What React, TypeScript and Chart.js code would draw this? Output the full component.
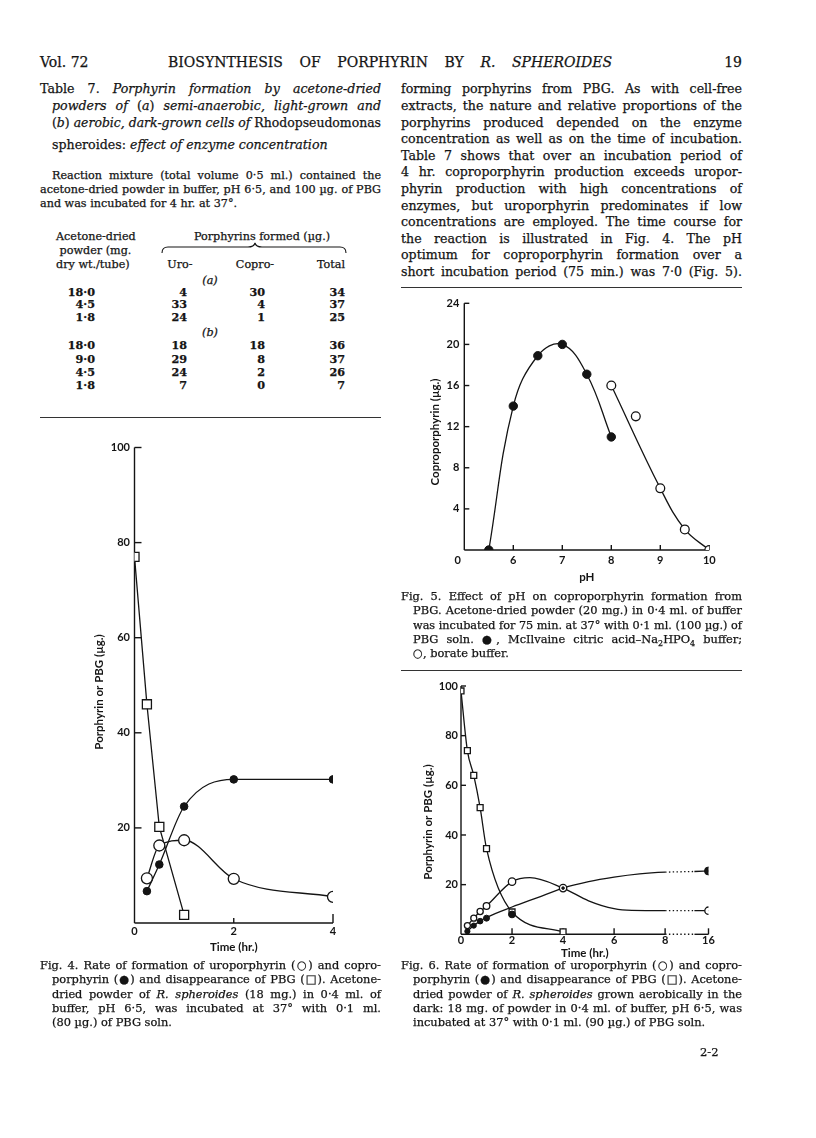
import React, { useEffect, useLayoutEffect, useRef } from 'react';
import { Chart, registerables } from 'chart.js';

Chart.register(...registerables);

// ---------------- Fig. 4 (time in hr., porphyrin or PBG in µg.) ----------------
const fig4Hours = [0.25, 0.5, 1, 2, 4];
const fig4Uro = [9.4, 16.3, 17.4, 9.3, 5.5];
const fig4Copro = [6.7, 12.3, 24.5, 30.2, 30.2];
const fig4PbgHours = [0, 0.25, 0.5, 1];
const fig4Pbg = [77, 46, 20.2, 1.7];
const fig4XTicks = [0, 2, 4];
const fig4YTicks = [20, 40, 60, 80, 100];

// ---------------- Fig. 5 (pH vs coproporphyrin µg.) ----------------
const fig5PhMcIlvaine = [5.5, 6, 6.5, 7, 7.5, 8];
const fig5CoproMcIlvaine = [0, 14, 18.9, 20, 17.1, 11];
const fig5PhBorate = [8, 8.5, 9, 9.5, 10];
const fig5CoproBorate = [16, 13, 6, 2, 0];
// fitted line drawn through the borate points
const fig5BorateCurvePh = [8, 9, 9.5, 10];
const fig5BorateCurve = [16, 6, 2, 0];
const fig5XTicks = [6, 7, 8, 9, 10];
const fig5YTicks = [4, 8, 12, 16, 20, 24];

// ---------------- Fig. 6 (time in hr., broken axis 8 -> 16 hr.) ----------------
const fig6Hours = [0.25, 0.5, 0.75, 1, 2, 4, 16];
const fig6Uro = [3.5, 6.5, 9.2, 11.4, 21.2, 18.6, 9.5];
const fig6Copro = [1.2, 3.5, 5.3, 6.5, 8, 18.6, 25.5];
const fig6PbgHours = [0, 0.25, 0.5, 0.75, 1, 2, 4];
const fig6Pbg = [98, 74, 64, 51, 34.5, 9, 1];
// fitted curves
const fig6UroCurveHours = [0.25, 0.5, 0.75, 1, 2, 2.7, 4, 5, 6, 6.7, 8, 13.4, 16];
const fig6UroCurve = [3.5, 6.5, 9.2, 11.4, 21.2, 22.8, 18.6, 13.5, 10.3, 9.6, 9.5, 9.5, 9.5];
const fig6CoproCurveHours = [0.25, 0.5, 0.75, 1, 2, 3, 4, 5, 6, 7, 8, 13.4, 16];
const fig6CoproCurve = [1.2, 3.5, 5.3, 6.8, 11, 14.8, 18.6, 21.2, 23, 24.3, 25, 25.3, 25.5];
const fig6XTickHours = [0, 2, 4, 6, 8, 16];
const fig6YTicks = [20, 40, 60, 80, 100];

// ---------------- Table 7 ----------------
const tablePowderA = ['18·0', '4·5', '1·8'];
const tableUroA = [4, 33, 24];
const tableCoproA = [30, 4, 1];
const tableTotalA = [34, 37, 25];
const tablePowderB = ['18·0', '9·0', '4·5', '1·8'];
const tableUroB = [18, 29, 24, 7];
const tableCoproB = [18, 8, 2, 0];
const tableTotalB = [36, 37, 26, 7];

const INK = '#141414';
const SERIF = '"DejaVu Serif", "Liberation Serif", serif';
const SANS = 'Lato, "DejaVu Sans", sans-serif';

// broken time axis of Fig. 6: 8 -> 16 hr. squeezed
const hrAxis = (h: number) => (h <= 8 ? h : 8 + ((h - 8) * 1.7) / 8);

const pts = (xs: number[], ys: number[], f: (v: number) => number = (v) => v) =>
  xs.map((x, i) => ({ x: f(x), y: ys[i] }));

const paperAxes = {
  id: 'paperAxes',
  beforeDatasetsDraw(chart: any, _a: any, o: any) {
    const { ctx, chartArea: ca, scales } = chart;
    const x = scales.x;
    const y = scales.y;
    ctx.save();
    ctx.strokeStyle = INK;
    ctx.lineWidth = 1.4;
    ctx.beginPath();
    ctx.moveTo(ca.left, y.getPixelForValue(y.max));
    ctx.lineTo(ca.left, ca.bottom);
    ctx.stroke();
    for (const [a, b, dotted] of o.xSegments) {
      ctx.setLineDash(dotted ? [1.4, 2.4] : []);
      ctx.beginPath();
      ctx.moveTo(x.getPixelForValue(a), ca.bottom);
      ctx.lineTo(x.getPixelForValue(b), ca.bottom);
      ctx.stroke();
    }
    ctx.setLineDash([]);
    for (const [v, len] of o.xTicks) {
      const px = x.getPixelForValue(v);
      ctx.beginPath();
      ctx.moveTo(px, ca.bottom);
      ctx.lineTo(px, ca.bottom - len);
      ctx.stroke();
    }
    for (const [v, len] of o.yTicks) {
      const py = y.getPixelForValue(v);
      ctx.beginPath();
      ctx.moveTo(ca.left, py);
      ctx.lineTo(ca.left + len, py);
      ctx.stroke();
    }
    ctx.fillStyle = INK;
    if (o.corner) {
      ctx.font = `bold 11px ${SANS}`;
      ctx.textAlign = 'center';
      ctx.textBaseline = 'middle';
      ctx.fillText(o.corner.text, ca.left + o.corner.dx, ca.bottom + o.corner.dy);
    }
    if (o.yTitle) {
      ctx.save();
      ctx.translate(o.yTitle.x, o.yTitle.y);
      ctx.rotate(-Math.PI / 2);
      ctx.font = `bold 11.5px ${SANS}`;
      ctx.textAlign = 'center';
      ctx.textBaseline = 'middle';
      ctx.fillText(o.yTitle.text, 0, 0);
      ctx.restore();
    }
    ctx.restore();
  },
};

const tickFont = { family: SANS, size: 11, weight: 'bold' as const };
const titleFont = { family: SANS, size: 11.5, weight: 'bold' as const };

const OPEN = (r: any) => ({
  pointStyle: 'circle', pointRadius: r, pointBackgroundColor: '#fff', pointBorderColor: INK, pointBorderWidth: 1.3,
});
const FILLED = (r: any) => ({
  pointStyle: 'circle', pointRadius: r, pointBackgroundColor: INK, pointBorderColor: INK, pointBorderWidth: 1,
});
const SQUARE = (r: any) => ({
  pointStyle: 'rect', pointRadius: r, pointBackgroundColor: '#fff', pointBorderColor: INK, pointBorderWidth: 1.3,
});
const marks = (data: any[], style: any) => ({ data, showLine: false, order: 1, pointHoverRadius: 0, ...style });
const curve = (data: any[], extra: any = {}) => ({
  data, showLine: true, borderColor: INK, borderWidth: 1.3, pointRadius: 0, pointHoverRadius: 0, fill: false, order: 2, ...extra,
});

type Frame = { left: number; top: number; width: number; height: number; l: number; t: number; r: number; b: number };

function build(canvas: HTMLCanvasElement, f: Frame, datasets: any[], c: any) {
  canvas.width = f.width;
  canvas.height = f.height;
  const yW = f.l - f.left;
  const xH = f.top + f.height - f.b;
  const axes = { ...c.axes, yTitle: { text: c.yTitle.text, x: c.yTitle.x - f.left, y: c.yTitle.y - f.top } };
  return new Chart(canvas, {
    type: 'scatter',
    data: { datasets },
    plugins: [paperAxes],
    options: {
      animation: false,
      responsive: false,
      maintainAspectRatio: false,
      events: [],
      layout: { padding: { left: 0, top: f.t - f.top, right: f.left + f.width - f.r, bottom: 0 } },
      plugins: {
        legend: { display: false },
        tooltip: { enabled: false },
        paperAxes: axes,
      } as any,
      scales: {
        x: {
          type: 'linear', min: c.xMin, max: c.xMax,
          grid: { display: false, drawTicks: false, tickLength: 0 }, border: { display: false },
          afterBuildTicks: (s: any) => { s.ticks = c.xTicks.map((v: number) => ({ value: v })); },
          afterFit: (s: any) => { s.height = xH; },
          ticks: {
            autoSkip: false, maxRotation: 0, minRotation: 0, padding: c.xLabelPad, color: INK, font: tickFont,
            callback: (_v: any, i: number) => c.xLabels[i],
          },
          title: { display: true, text: c.xTitle, color: INK, font: titleFont, padding: { top: 0, bottom: c.xTitlePad } },
        },
        y: {
          type: 'linear', min: c.yMin, max: c.yMax,
          grid: { display: false, drawTicks: false, tickLength: 0 }, border: { display: false },
          afterBuildTicks: (s: any) => { s.ticks = c.yTicks.map((v: number) => ({ value: v })); },
          afterFit: (s: any) => { s.width = yW; },
          ticks: {
            autoSkip: false, padding: c.yLabelPad, color: INK, font: tickFont,
            callback: (v: any) => String(v),
          },
          title: { display: false },
        },
      } as any,
    } as any,
  });
}

const F4: Frame = { left: 84, top: 430, width: 262, height: 530, l: 134.5, t: 447.5, r: 333, b: 923 };
const F5: Frame = { left: 420, top: 290, width: 300, height: 300, l: 464.3, t: 303.3, r: 709.3, b: 550 };
const F6: Frame = { left: 414, top: 672, width: 306, height: 292, l: 461, t: 686, r: 708.5, b: 934.3 };

function makeFig4(cv: HTMLCanvasElement) {
  return build(cv, F4, [
    marks(pts(fig4Hours, fig4Copro), FILLED(3.8)),
    marks(pts(fig4Hours, fig4Uro), OPEN(5.5)),
    marks(pts(fig4PbgHours, fig4Pbg), SQUARE(6.4)),
    curve(pts(fig4Hours, fig4Copro), { cubicInterpolationMode: 'monotone' }),
    curve(pts(fig4Hours, fig4Uro), { cubicInterpolationMode: 'monotone' }),
    curve(pts(fig4PbgHours, fig4Pbg), { tension: 0 }),
  ], {
    xMin: 0, xMax: 4, yMin: 0, yMax: 100,
    xTicks: fig4XTicks, xLabels: fig4XTicks.map(String), yTicks: fig4YTicks,
    xTitle: 'Time (hr.)', yTitle: { text: 'Porphyrin or PBG (\u00b5g.)', x: 99, y: 692 },
    xLabelPad: 1.4, xTitlePad: 6.1, yLabelPad: 4.5,
    axes: {
      xSegments: [[0, 4, false]],
      xTicks: [[2, 5], [4, 9]],
      yTicks: fig4YTicks.map((v) => [v, 7]),
    },
  });
}

function makeFig5(cv: HTMLCanvasElement) {
  return build(cv, F5, [
    marks(pts(fig5PhMcIlvaine, fig5CoproMcIlvaine), FILLED(4.2)),
    marks(pts(fig5PhBorate, fig5CoproBorate), OPEN(4.4)),
    curve(pts(fig5PhMcIlvaine, fig5CoproMcIlvaine), { tension: 0.4 }),
    curve(pts(fig5BorateCurvePh, fig5BorateCurve), { tension: 0.4 }),
  ], {
    xMin: 5, xMax: 10, yMin: 0, yMax: 24,
    xTicks: fig5XTicks, xLabels: fig5XTicks.map(String), yTicks: fig5YTicks,
    xTitle: 'pH', yTitle: { text: 'Coproporphyrin (\u00b5g.)', x: 435, y: 432 },
    xLabelPad: 3.4, xTitlePad: 6.1, yLabelPad: 5,
    axes: {
      xSegments: [[5, 10, false]],
      xTicks: fig5XTicks.map((v) => [v, 5]),
      yTicks: fig5YTicks.map((v) => [v, 5]),
      corner: { text: '0', dx: -6.6, dy: 10 },
    },
  });
}

function makeFig6(cv: HTMLCanvasElement) {
  const dashBreak = {
    borderDash: (ctx: any) => (ctx.p0.parsed.x >= 7.999 && ctx.p1.parsed.x <= 9.2 ? [1.4, 2.4] : undefined),
  };
  return build(cv, F6, [
    marks(pts(fig6Hours, fig6Copro, hrAxis), FILLED([2.6, 2.6, 2.8, 3, 3.4, 1.3, 4])),
    marks(pts(fig6Hours, fig6Uro, hrAxis), OPEN([3, 3, 3.1, 3.3, 3.7, 3.7, 3.7])),
    marks(pts(fig6PbgHours, fig6Pbg, hrAxis), SQUARE(4.2)),
    curve(pts(fig6UroCurveHours, fig6UroCurve, hrAxis), { cubicInterpolationMode: 'monotone', segment: dashBreak }),
    curve(pts(fig6CoproCurveHours, fig6CoproCurve, hrAxis), { cubicInterpolationMode: 'monotone', segment: dashBreak }),
    curve(pts(fig6PbgHours, fig6Pbg, hrAxis), { cubicInterpolationMode: 'monotone' }),
  ], {
    xMin: 0, xMax: hrAxis(16), yMin: 0, yMax: 100,
    xTicks: fig6XTickHours.map(hrAxis), xLabels: fig6XTickHours.map(String), yTicks: fig6YTicks,
    xTitle: 'Time (hr.)', yTitle: { text: 'Porphyrin or PBG (\u00b5g.)', x: 428, y: 822 },
    xLabelPad: 0, xTitlePad: 3.8, yLabelPad: 3,
    axes: {
      xSegments: [[0, 8, false], [8, 9.15, true], [9.15, hrAxis(16), false]],
      xTicks: fig6XTickHours.filter((h) => h > 0).map((h) => [hrAxis(h), 6]),
      yTicks: fig6YTicks.map((v) => [v, 5]),
    },
  });
}

// ---------------- text helpers ----------------
type TP = { x: number; y: number; w?: number; fs?: number; j?: boolean; a?: 'left' | 'center' | 'right'; children: React.ReactNode };
function T({ x, y, w, fs = 12.6, j = false, a = 'left', children }: TP) {
  const ref = useRef<HTMLDivElement>(null);
  useLayoutEffect(() => {
    const el = ref.current;
    if (!el || !w) return;
    el.style.width = 'auto';
    const nat = el.getBoundingClientRect().width;
    if (nat > w) {
      el.style.width = nat + 'px';
      if (a === 'right') el.style.left = x + w - nat + 'px';
      if (a === 'center') el.style.left = x + (w - nat) / 2 + 'px';
      el.style.transformOrigin = (a === 'right' ? 'right' : a === 'center' ? 'center' : 'left') + ' center';
      el.style.transform = `scaleX(${w / nat})`;
    } else {
      el.style.width = w + 'px';
    }
  }, []);
  const align = j ? 'justify' : a;
  return (
    <div
      ref={ref}
      style={{
        position: 'absolute', left: x, top: y - fs * 0.6, width: w, fontFamily: SERIF, fontSize: fs,
        lineHeight: `${fs * 1.2}px`, whiteSpace: 'nowrap', textAlign: align as any, textAlignLast: align as any, color: INK,
        WebkitTextStroke: '0.25px #141414',
      }}
    >
      {children}
    </div>
  );
}

const Rule = ({ x, y, w }: { x: number; y: number; w: number }) => (
  <div style={{ position: 'absolute', left: x, top: y, width: w, height: 0, borderTop: `1.2px solid #333` }} />
);

const LX = 40, LW = 341, RX = 401, RW = 341, IND = 12;
const BODY_Y0 = 89, BODY_DY = 16.6;
const bodyLines = [
  'forming porphyrins from PBG. As with cell-free',
  'extracts, the nature and relative proportions of the',
  'porphyrins produced depended on the enzyme',
  'concentration as well as on the time of incubation.',
  'Table 7 shows that over an incubation period of',
  '4 hr. coproporphyrin production exceeds uropor-',
  'phyrin production with high concentrations of',
  'enzymes, but uroporphyrin predominates if low',
  'concentrations are employed. The time course for',
  'the reaction is illustrated in Fig. 4. The pH',
  'optimum for coproporphyrin formation over a',
  'short incubation period (75 min.) was 7\u00b70 (Fig. 5).',
];

const rowsA = [292.5, 305, 317.7];
const rowsB = [346, 359.3, 372.6, 386];
const CAP = 11.4;
const NOTE = 11.2;
const capY = [966, 980.2, 994.4, 1008.6, 1022.8];

export default function App() {
  const c4 = useRef<HTMLCanvasElement>(null);
  const c5 = useRef<HTMLCanvasElement>(null);
  const c6 = useRef<HTMLCanvasElement>(null);

  useEffect(() => {
    const charts = [makeFig4(c4.current!), makeFig5(c5.current!), makeFig6(c6.current!)];
    return () => charts.forEach((ch) => ch.destroy());
  }, []);

  const cv = (f: Frame) => ({ position: 'absolute' as const, left: f.left, top: f.top, width: f.width, height: f.height, display: 'block' });

  const tableRow = (y: number, p: string, u: number, c: number, t: number) => (
    <React.Fragment key={`r${y}`}>
      <T x={45} y={y} w={50} fs={NOTE} a="right"><b>{p}</b></T>
      <T x={147} y={y} w={40} fs={NOTE} a="right"><b>{u}</b></T>
      <T x={225} y={y} w={40} fs={NOTE} a="right"><b>{c}</b></T>
      <T x={305} y={y} w={40} fs={NOTE} a="right"><b>{t}</b></T>
    </React.Fragment>
  );

  return (
    <div style={{ position: 'absolute', left: 0, top: 0, width: 816, height: 1138, background: '#fff', overflow: 'hidden' }}>
      {/* running head */}
      <T x={LX} y={62} fs={14}>Vol. 72</T>
      <T x={168} y={62} w={444} fs={14} j>BIOSYNTHESIS OF PORPHYRIN BY <i>R. SPHEROIDES</i></T>
      <T x={702} y={62} w={40} fs={14} a="right">19</T>

      {/* Table 7 caption */}
      <T x={LX} y={89} w={LW} j>Table 7. <i>Porphyrin formation by acetone-dried</i></T>
      <T x={LX + IND} y={106} w={LW - IND} j><i>powders of</i> (<i>a</i>) <i>semi-anaerobic, light-grown and</i></T>
      <T x={LX + IND} y={123} w={LW - IND} j>(<i>b</i>) <i>aerobic, dark-grown cells of</i> Rhodopseudomonas</T>
      <T x={LX + IND} y={145}>spheroides: <i>effect of enzyme concentration</i></T>

      <T x={LX + IND} y={176} w={LW - IND} fs={NOTE} j>Reaction mixture (total volume 0{'\u00b7'}5 ml.) contained the</T>
      <T x={LX} y={190} w={LW} fs={NOTE} j>acetone-dried powder in buffer, pH 6{'\u00b7'}5, and 100 {'\u00b5'}g. of PBG</T>
      <T x={LX} y={203.5} fs={NOTE}>and was incubated for 4 hr. at 37{'\u00b0'}.</T>

      {/* table head */}
      <T x={56} y={237} fs={NOTE}>Acetone-dried</T>
      <T x={56} y={251} fs={NOTE}>&nbsp;powder (mg.</T>
      <T x={56} y={265} fs={NOTE}>dry wt./tube)</T>
      <T x={182} y={237} w={160} fs={NOTE} a="center">Porphyrins formed ({'\u00b5'}g.)</T>
      <svg style={{ position: 'absolute', left: 0, top: 0, overflow: 'visible' }} width={1} height={1}>
        <path d="M162 253 Q162 247 168 247 L248 247 Q254 247 255 243 Q256 247 262 247 L340 247 Q346 247 346 253"
          fill="none" stroke={INK} strokeWidth={1.1} />
      </svg>
      <T x={160} y={265} w={40} fs={NOTE} a="center">Uro-</T>
      <T x={230} y={265} w={50} fs={NOTE} a="center">Copro-</T>
      <T x={305} y={265} w={40} fs={NOTE} a="right">Total</T>
      <T x={195} y={280.5} w={30} fs={NOTE} a="center"><i>(a)</i></T>
      {rowsA.map((y, i) => tableRow(y, tablePowderA[i], tableUroA[i], tableCoproA[i], tableTotalA[i]))}
      <T x={195} y={333} w={30} fs={NOTE} a="center"><i>(b)</i></T>
      {rowsB.map((y, i) => tableRow(y, tablePowderB[i], tableUroB[i], tableCoproB[i], tableTotalB[i]))}
      <Rule x={LX} y={417} w={LW} />

      {/* right column text */}
      {bodyLines.map((s, i) => (
        <T key={s} x={RX} y={BODY_Y0 + i * BODY_DY} w={RW} j>{s}</T>
      ))}
      <Rule x={RX} y={287} w={RW} />

      {/* charts */}
      <canvas ref={c4} style={cv(F4)} />
      <canvas ref={c5} style={cv(F5)} />
      <canvas ref={c6} style={cv(F6)} />

      {/* Fig. 5 caption */}
      <T x={RX} y={596.7} w={RW} fs={CAP} j>Fig. 5. Effect of pH on coproporphyrin formation from</T>
      <T x={RX + IND} y={611.3} w={RW - IND} fs={CAP} j>PBG. Acetone-dried powder (20 mg.) in 0{'\u00b7'}4 ml. of buffer</T>
      <T x={RX + IND} y={625.7} w={RW - IND} fs={CAP} j>was incubated for 75 min. at 37{'\u00b0'} with 0{'\u00b7'}1 ml. (100 {'\u00b5'}g.) of</T>
      <T x={RX + IND} y={640} w={RW - IND} fs={CAP} j>PBG soln. {'\u25cf'}, McIlvaine citric acid{'\u2013'}Na<sub style={{ fontSize: '70%' }}>2</sub>HPO<sub style={{ fontSize: '70%' }}>4</sub> buffer;</T>
      <T x={RX + IND} y={654.3} fs={CAP}>{'\u25cb'}, borate buffer.</T>
      <Rule x={RX} y={670} w={RW} />

      {/* Fig. 4 caption */}
      <T x={LX} y={capY[0]} w={LW} fs={CAP} j>Fig. 4. Rate of formation of uroporphyrin ({'\u25cb'}) and copro-</T>
      <T x={LX + IND} y={capY[1]} w={LW - IND} fs={CAP} j>porphyrin ({'\u25cf'}) and disappearance of PBG ({'\u25a1'}). Acetone-</T>
      <T x={LX + IND} y={capY[2]} w={LW - IND} fs={CAP} j>dried powder of <i>R. spheroides</i> (18 mg.) in 0{'\u00b7'}4 ml. of</T>
      <T x={LX + IND} y={capY[3]} w={LW - IND} fs={CAP} j>buffer, pH 6{'\u00b7'}5, was incubated at 37{'\u00b0'} with 0{'\u00b7'}1 ml.</T>
      <T x={LX + IND} y={capY[4]} fs={CAP}>(80 {'\u00b5'}g.) of PBG soln.</T>

      {/* Fig. 6 caption */}
      <T x={RX} y={capY[0]} w={RW} fs={CAP} j>Fig. 6. Rate of formation of uroporphyrin ({'\u25cb'}) and copro-</T>
      <T x={RX + IND} y={capY[1]} w={RW - IND} fs={CAP} j>porphyrin ({'\u25cf'}) and disappearance of PBG ({'\u25a1'}). Acetone-</T>
      <T x={RX + IND} y={capY[2]} w={RW - IND} fs={CAP} j>dried powder of <i>R. spheroides</i> grown aerobically in the</T>
      <T x={RX + IND} y={capY[3]} w={RW - IND} fs={CAP} j>dark: 18 mg. of powder in 0{'\u00b7'}4 ml. of buffer, pH 6{'\u00b7'}5, was</T>
      <T x={RX + IND} y={capY[4]} fs={CAP}>incubated at 37{'\u00b0'} with 0{'\u00b7'}1 ml. (90 {'\u00b5'}g.) of PBG soln.</T>

      <T x={700} y={1053} fs={11.5}>2-2</T>
    </div>
  );
}
